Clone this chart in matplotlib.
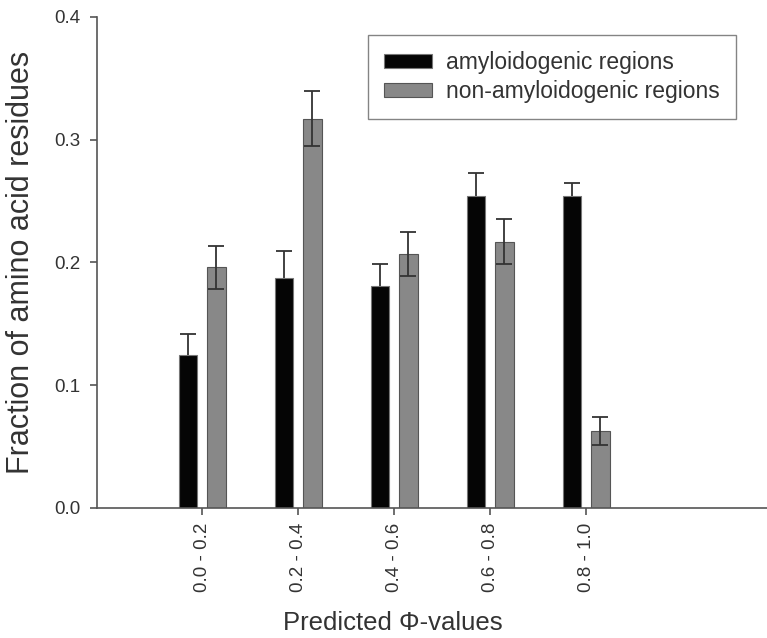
import matplotlib
matplotlib.use("Agg")
import matplotlib.pyplot as plt
import numpy as np

plt.rcParams['font.family'] = ['Liberation Sans', 'DejaVu Sans']

categories = ["0.0 - 0.2", "0.2 - 0.4", "0.4 - 0.6", "0.6 - 0.8", "0.8 - 1.0"]
amyloid = [0.125, 0.187, 0.181, 0.254, 0.254]
amyloid_err = [0.017, 0.022, 0.018, 0.0185, 0.0105]
non_amyloid = [0.196, 0.317, 0.207, 0.217, 0.063]
non_amyloid_err = [0.0175, 0.0225, 0.0177, 0.0184, 0.0115]

fig = plt.figure(figsize=(7.67, 6.38), dpi=100)
ax = fig.add_axes([0.1265, 0.2038, 0.8735, 0.7696])

x = np.arange(len(categories))
w = 0.19
off = 0.15
ekw = dict(ecolor='#333333', elinewidth=1.3, capsize=5.6, capthick=1.3)
ax.errorbar(x - off, amyloid, yerr=amyloid_err, fmt='none', zorder=1, **ekw)
ax.bar(x - off, amyloid, w, color='#050505', edgecolor='#777777', linewidth=0.8,
       zorder=2, label='amyloidogenic regions')
ax.bar(x + off, non_amyloid, w, yerr=non_amyloid_err, color='#888888', edgecolor='#555555',
       linewidth=0.8, error_kw=ekw, zorder=2, label='non-amyloidogenic regions')

ax.set_xlim(-1.094, 5.885)
ax.set_ylim(0, 0.4)
ax.set_yticks([0.0, 0.1, 0.2, 0.3, 0.4])
ax.set_yticklabels(["0.0", "0.1", "0.2", "0.3", "0.4"])
ax.set_xticks(x)
ax.set_xticklabels(categories, rotation=90)

for s in ['top', 'right']:
    ax.spines[s].set_visible(False)
for s in ['left', 'bottom']:
    ax.spines[s].set_color('#555555')
    ax.spines[s].set_linewidth(1.2)
    ax.spines[s].set_zorder(3)
ax.tick_params(axis='y', direction='out', length=5, width=1.2, color='#555555',
               labelsize=13.5, labelcolor='#333333', pad=7)
ax.tick_params(axis='x', direction='out', length=5, width=1.2, color='#555555',
               labelsize=13.5, labelcolor='#333333', pad=5.5)

ax.set_ylabel("Fraction of amino acid residues", fontsize=22, color='#333333')
ax.yaxis.set_label_coords(-0.091, 0.5)
ax.set_xlabel("Predicted \u03a6-values", fontsize=18.5, color='#333333')
ax.xaxis.set_label_coords(0.441, -0.209)

leg = ax.legend(loc='upper left', bbox_to_anchor=(0.4045, 0.963), fontsize=16.5,
                frameon=True, fancybox=False, edgecolor='#666666', handlelength=2.1,
                handleheight=0.55, borderpad=0.7, labelspacing=0.27, handletextpad=0.6,
                borderaxespad=0)
leg.get_frame().set_linewidth(1.0)
for t in leg.get_texts():
    t.set_color('#333333')

fig.savefig("out.png", dpi=100)
